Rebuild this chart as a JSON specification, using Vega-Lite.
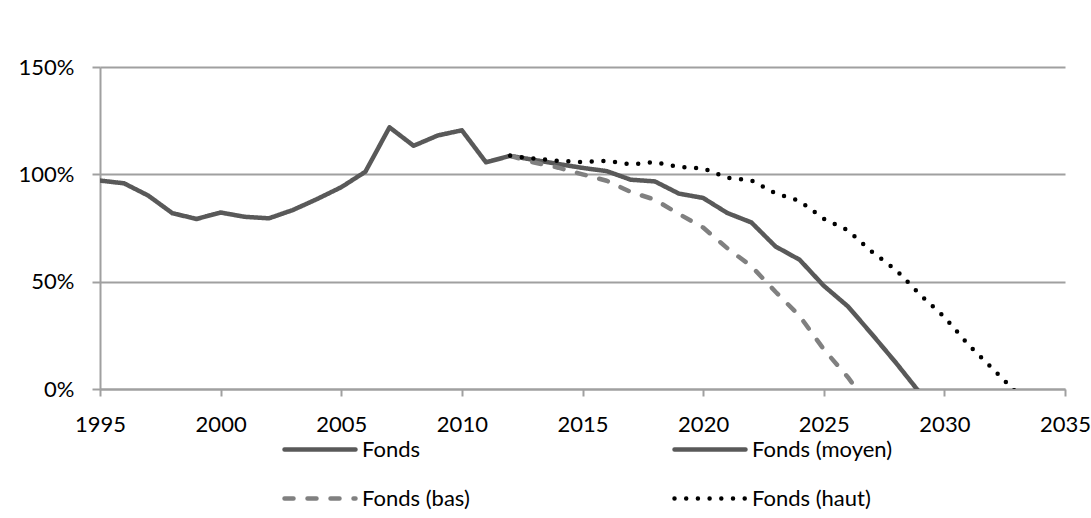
{
  "$schema": "https://vega.github.io/schema/vega-lite/v6.json",
  "width": 965,
  "height": 322,
  "autosize": {"type": "none"},
  "padding": {"left": 100, "top": 67, "right": 26, "bottom": 129},
  "background": "white",
  "config": {
    "view": {"stroke": null},
    "font": "Lato",
    "axis": {
      "labelFont": "Lato",
      "labelFontSize": 22,
      "labelColor": "#000000",
      "domainColor": "#a0a0a0",
      "domainWidth": 2,
      "tickColor": "#a0a0a0",
      "tickWidth": 2,
      "gridColor": "#a0a0a0",
      "gridWidth": 2,
      "title": null
    },
    "legend": {
      "labelFont": "Lato",
      "labelFontSize": 22,
      "labelColor": "#000000"
    }
  },
  "data": {
    "values": [
      {"year": 1995, "serie": "Fonds", "v": 0.971},
      {"year": 1996, "serie": "Fonds", "v": 0.958},
      {"year": 1997, "serie": "Fonds", "v": 0.901},
      {"year": 1998, "serie": "Fonds", "v": 0.819},
      {"year": 1999, "serie": "Fonds", "v": 0.792},
      {"year": 2000, "serie": "Fonds", "v": 0.822},
      {"year": 2001, "serie": "Fonds", "v": 0.802},
      {"year": 2002, "serie": "Fonds", "v": 0.795},
      {"year": 2003, "serie": "Fonds", "v": 0.834},
      {"year": 2004, "serie": "Fonds", "v": 0.885},
      {"year": 2005, "serie": "Fonds", "v": 0.940},
      {"year": 2006, "serie": "Fonds", "v": 1.012},
      {"year": 2007, "serie": "Fonds", "v": 1.219},
      {"year": 2008, "serie": "Fonds", "v": 1.133},
      {"year": 2009, "serie": "Fonds", "v": 1.181},
      {"year": 2010, "serie": "Fonds", "v": 1.205},
      {"year": 2011, "serie": "Fonds", "v": 1.056},
      {"year": 2012, "serie": "Fonds", "v": 1.086},

      {"year": 2012, "serie": "Fonds (moyen)", "v": 1.086},
      {"year": 2013, "serie": "Fonds (moyen)", "v": 1.067},
      {"year": 2014, "serie": "Fonds (moyen)", "v": 1.048},
      {"year": 2015, "serie": "Fonds (moyen)", "v": 1.030},
      {"year": 2016, "serie": "Fonds (moyen)", "v": 1.015},
      {"year": 2017, "serie": "Fonds (moyen)", "v": 0.975},
      {"year": 2018, "serie": "Fonds (moyen)", "v": 0.967},
      {"year": 2019, "serie": "Fonds (moyen)", "v": 0.910},
      {"year": 2020, "serie": "Fonds (moyen)", "v": 0.890},
      {"year": 2021, "serie": "Fonds (moyen)", "v": 0.820},
      {"year": 2022, "serie": "Fonds (moyen)", "v": 0.776},
      {"year": 2023, "serie": "Fonds (moyen)", "v": 0.664},
      {"year": 2024, "serie": "Fonds (moyen)", "v": 0.602},
      {"year": 2025, "serie": "Fonds (moyen)", "v": 0.481},
      {"year": 2026, "serie": "Fonds (moyen)", "v": 0.385},
      {"year": 2027, "serie": "Fonds (moyen)", "v": 0.255},
      {"year": 2028, "serie": "Fonds (moyen)", "v": 0.121},
      {"year": 2029, "serie": "Fonds (moyen)", "v": -0.020},

      {"year": 2012, "serie": "Fonds (bas)", "v": 1.086},
      {"year": 2013, "serie": "Fonds (bas)", "v": 1.055},
      {"year": 2014, "serie": "Fonds (bas)", "v": 1.031},
      {"year": 2015, "serie": "Fonds (bas)", "v": 1.000},
      {"year": 2016, "serie": "Fonds (bas)", "v": 0.970},
      {"year": 2017, "serie": "Fonds (bas)", "v": 0.918},
      {"year": 2018, "serie": "Fonds (bas)", "v": 0.882},
      {"year": 2019, "serie": "Fonds (bas)", "v": 0.815},
      {"year": 2020, "serie": "Fonds (bas)", "v": 0.752},
      {"year": 2021, "serie": "Fonds (bas)", "v": 0.656},
      {"year": 2022, "serie": "Fonds (bas)", "v": 0.572},
      {"year": 2023, "serie": "Fonds (bas)", "v": 0.453},
      {"year": 2024, "serie": "Fonds (bas)", "v": 0.340},
      {"year": 2025, "serie": "Fonds (bas)", "v": 0.185},
      {"year": 2026, "serie": "Fonds (bas)", "v": 0.055},
      {"year": 2027, "serie": "Fonds (bas)", "v": -0.098},

      {"year": 2012, "serie": "Fonds (haut)", "v": 1.086},
      {"year": 2013, "serie": "Fonds (haut)", "v": 1.073},
      {"year": 2014, "serie": "Fonds (haut)", "v": 1.063},
      {"year": 2015, "serie": "Fonds (haut)", "v": 1.057},
      {"year": 2016, "serie": "Fonds (haut)", "v": 1.063},
      {"year": 2017, "serie": "Fonds (haut)", "v": 1.046},
      {"year": 2018, "serie": "Fonds (haut)", "v": 1.057},
      {"year": 2019, "serie": "Fonds (haut)", "v": 1.034},
      {"year": 2020, "serie": "Fonds (haut)", "v": 1.028},
      {"year": 2021, "serie": "Fonds (haut)", "v": 0.984},
      {"year": 2022, "serie": "Fonds (haut)", "v": 0.972},
      {"year": 2023, "serie": "Fonds (haut)", "v": 0.911},
      {"year": 2024, "serie": "Fonds (haut)", "v": 0.876},
      {"year": 2025, "serie": "Fonds (haut)", "v": 0.793},
      {"year": 2026, "serie": "Fonds (haut)", "v": 0.739},
      {"year": 2027, "serie": "Fonds (haut)", "v": 0.639},
      {"year": 2028, "serie": "Fonds (haut)", "v": 0.554},
      {"year": 2029, "serie": "Fonds (haut)", "v": 0.439},
      {"year": 2030, "serie": "Fonds (haut)", "v": 0.335},
      {"year": 2031, "serie": "Fonds (haut)", "v": 0.206},
      {"year": 2032, "serie": "Fonds (haut)", "v": 0.095},
      {"year": 2033, "serie": "Fonds (haut)", "v": -0.019}
    ]
  },
  "mark": {"type": "line", "clip": true, "strokeCap": "round", "strokeJoin": "round", "strokeWidth": 4.5},
  "encoding": {
    "x": {
      "field": "year",
      "type": "quantitative",
      "scale": {"domain": [1995, 2035], "nice": false, "zero": false},
      "axis": {
        "values": [1995, 2000, 2005, 2010, 2015, 2020, 2025, 2030, 2035],
        "format": "d",
        "grid": false,
        "tickSize": 7,
        "labelPadding": 18,
        "labelFlush": false,
        "labelOverlap": false
      }
    },
    "y": {
      "field": "v",
      "type": "quantitative",
      "scale": {"domain": [0, 1.5], "nice": false},
      "axis": {
        "values": [0, 0.5, 1, 1.5],
        "format": ".0%",
        "grid": true,
        "tickSize": 8,
        "labelPadding": 18
      }
    },
    "color": {
      "field": "serie",
      "type": "nominal",
      "scale": {
        "domain": ["Fonds", "Fonds (bas)", "Fonds (moyen)", "Fonds (haut)"],
        "range": ["#595959", "#808080", "#595959", "#000000"]
      },
      "legend": {
        "title": null,
        "orient": "none",
        "legendX": 182,
        "legendY": 344.5,
        "columns": 2,
        "columnPadding": 195,
        "rowPadding": -22.6,
        "symbolType": "stroke",
        "symbolSize": 5041,
        "symbolStrokeWidth": 4.5,
        "labelOffset": 4,
        "padding": 0,
        "encode": {"symbols": {"update": {"strokeCap": {"value": "round"}}}}
      }
    },
    "strokeDash": {
      "field": "serie",
      "type": "nominal",
      "scale": {
        "domain": ["Fonds", "Fonds (bas)", "Fonds (moyen)", "Fonds (haut)"],
        "range": [[1, 0], [9, 14], [1, 0], [0, 11.7]]
      },
      "legend": {
        "title": null,
        "orient": "none",
        "legendX": 182,
        "legendY": 344.5,
        "columns": 2,
        "columnPadding": 195,
        "rowPadding": -22.6,
        "symbolType": "stroke",
        "symbolSize": 5041,
        "symbolStrokeWidth": 4.5,
        "labelOffset": 4,
        "padding": 0,
        "encode": {"symbols": {"update": {"strokeCap": {"value": "round"}}}}
      }
    }
  }
}
